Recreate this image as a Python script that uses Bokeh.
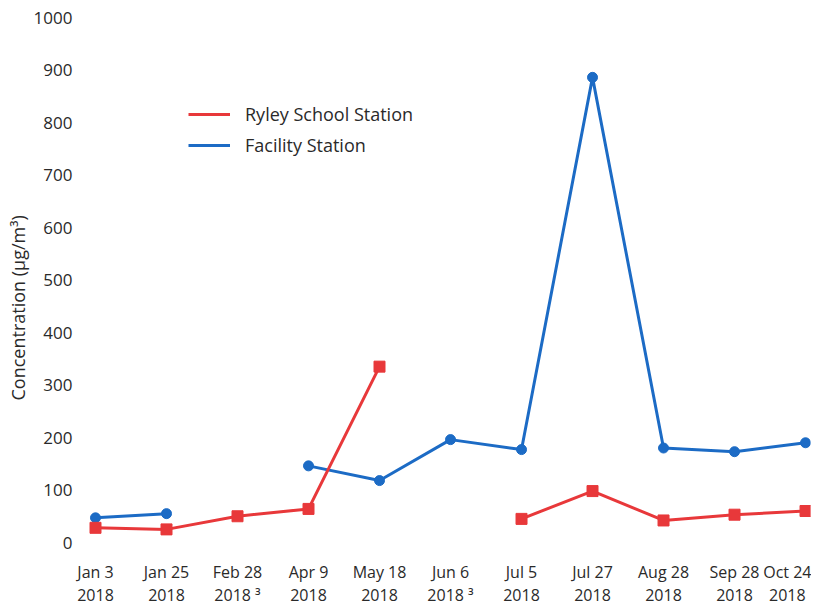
import math
from bokeh.plotting import figure
from bokeh.models import FixedTicker, Legend, LegendItem, ColumnDataSource, Title
from bokeh.embed import file_html
from bokeh.resources import INLINE

dates = ["Jan 3\n2018", "Jan 25\n2018", "Feb 28\n2018 \u00b3", "Apr 9\n2018", "May 18\n2018",
         "Jun 6\n2018 \u00b3", "Jul 5\n2018", "Jul 27\n2018", "Aug 28\n2018", "Sep 28\n2018", "Oct 24\n2018"]
ryley = [28, 25, 50, 64, 335, None, 45, 98, 42, 53, 60]
facility = [47, 55, None, 146, 118, 196, 177, 886, 180, 173, 190]
y_ticks = [0, 100, 200, 300, 400, 500, 600, 700, 800, 900, 1000]

RED = "#e8383a"
BLUE = "#1c6bc5"
TXT = "#2a2a2a"
FONT = "Open Sans"

xs = list(range(len(dates)))
def nanify(v):
    return [float("nan") if a is None else float(a) for a in v]

X0, X1 = -0.155, 10.07
p = figure(frame_width=726, frame_height=542, output_backend="svg", toolbar_location=None,
           x_range=(X0, X1), y_range=(-9.5, 1022.9),
           min_border_left=84, min_border_right=1, min_border_top=5, min_border_bottom=40)
p.outline_line_color = None
p.grid.grid_line_color = None
p.background_fill_color = "white"

# x axis
p.xaxis.ticker = FixedTicker(ticks=xs)
p.xaxis.major_label_overrides = {i: d for i, d in enumerate(dates)}
p.xaxis.axis_line_color = None
p.xaxis.major_tick_line_color = None
p.xaxis.minor_tick_line_color = None
p.xaxis.major_label_text_font = FONT
p.xaxis.major_label_text_font_size = "16px"
p.xaxis.major_label_text_color = TXT
p.xaxis.major_label_text_line_height = 1.05
p.xaxis.major_label_standoff = 7

# y axis
p.yaxis.ticker = FixedTicker(ticks=y_ticks)
p.yaxis.axis_line_color = None
p.yaxis.major_tick_line_color = None
p.yaxis.minor_tick_line_color = None
p.yaxis.major_label_text_font = FONT
p.yaxis.major_label_text_font_size = "17px"
p.yaxis.major_label_text_color = TXT
p.yaxis.major_label_standoff = 6

ytitle = Title(text="Concentration (\u00b5g/m\u00b3)", align="left", offset=147,
               text_font=FONT, text_font_size="18px", text_font_style="normal",
               text_color=TXT, standoff=2)
p.add_layout(ytitle, "left")

src = ColumnDataSource(dict(x=xs, ryley=nanify(ryley), facility=nanify(facility)))

f_line = p.line("x", "facility", source=src, line_color=BLUE, line_width=3)
p.scatter("x", "facility", source=src, marker="circle", size=10, fill_color=BLUE, line_color=BLUE)
r_line = p.line("x", "ryley", source=src, line_color=RED, line_width=3)
p.scatter("x", "ryley", source=src, marker="square", size=11, fill_color=RED, line_color=RED)

legend = Legend(items=[LegendItem(label="Ryley School Station", renderers=[r_line]),
                       LegendItem(label="Facility Station", renderers=[f_line])],
                location=(104, 390))
legend.border_line_color = None
legend.background_fill_alpha = 0
legend.padding = 0
legend.margin = 0
legend.spacing = 7
legend.glyph_width = 42
legend.glyph_height = 20
legend.label_standoff = 15
legend.label_text_font = FONT
legend.label_text_font_size = "18px"
legend.label_text_color = TXT
p.add_layout(legend, "center")

open("out.html", "w").write(file_html(p, INLINE))
